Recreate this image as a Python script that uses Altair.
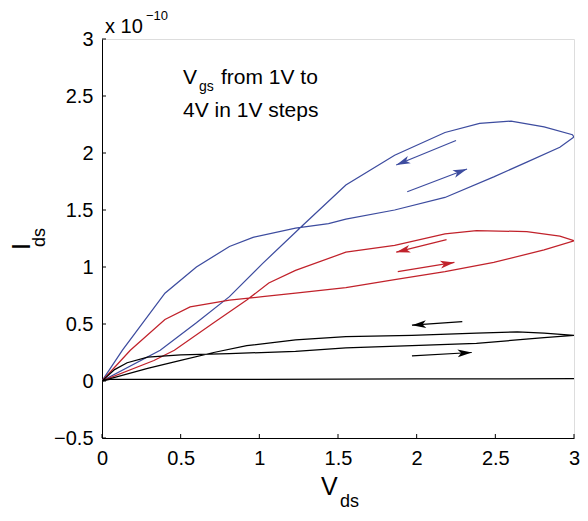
import math
import altair as alt
import pandas as pd

# ---------------- data ----------------
# Vgs = 4 V (blue): forward sweep then reverse sweep
blue_fwd_x = [0, 0.13, 0.40, 0.60, 0.81, 0.96, 1.23, 1.44, 1.55, 1.86, 2.18, 2.49, 2.70, 2.91, 3.0]
blue_fwd_y = [0, 0.27, 0.77, 1.00, 1.18, 1.26, 1.34, 1.38, 1.42, 1.50, 1.61, 1.79, 1.92, 2.05, 2.14]
blue_rev_x = [3.0, 2.99, 2.81, 2.60, 2.40, 2.18, 1.86, 1.55, 1.28, 1.02, 0.81, 0.60, 0.37, 0]
blue_rev_y = [2.14, 2.16, 2.23, 2.28, 2.26, 2.18, 1.98, 1.72, 1.37, 1.03, 0.74, 0.51, 0.27, 0]

# Vgs = 3 V (red)
red_fwd_x = [0, 0.18, 0.40, 0.56, 0.81, 1.02, 1.23, 1.55, 1.86, 2.18, 2.49, 2.81, 3.0]
red_fwd_y = [0, 0.27, 0.54, 0.65, 0.71, 0.74, 0.77, 0.82, 0.89, 0.96, 1.04, 1.15, 1.23]
red_rev_x = [3.0, 2.91, 2.70, 2.38, 2.18, 1.86, 1.55, 1.23, 1.06, 0.92, 0.71, 0.46, 0.33, 0]
red_rev_y = [1.23, 1.27, 1.31, 1.32, 1.29, 1.19, 1.13, 0.97, 0.86, 0.71, 0.51, 0.27, 0.18, 0]

# Vgs = 2 V (black)
blk_fwd_x = [0, 0.08, 0.16, 0.29, 0.50, 0.81, 1.23, 1.55, 1.97, 2.38, 2.81, 3.0]
blk_fwd_y = [0, 0.10, 0.16, 0.21, 0.23, 0.24, 0.26, 0.29, 0.31, 0.33, 0.38, 0.40]
blk_rev_x = [3.0, 2.81, 2.64, 2.38, 1.97, 1.55, 1.23, 0.92, 0.71, 0.50, 0.29, 0]
blk_rev_y = [0.40, 0.42, 0.43, 0.42, 0.40, 0.39, 0.36, 0.31, 0.25, 0.18, 0.11, 0]

# Vgs = 1 V (black, nearly flat)
one_x = [0, 0.05, 1.0, 2.0, 3.0]
one_y = [0, 0.015, 0.015, 0.018, 0.02]

# arrows: start x, start y, end x, end y, colour group
arrow_x0 = [2.25, 1.94, 2.19, 1.88, 2.29, 1.97]
arrow_y0 = [2.11, 1.66, 1.24, 0.96, 0.52, 0.22]
arrow_x1 = [1.87, 2.32, 1.87, 2.24, 1.97, 2.35]
arrow_y1 = [1.895, 1.86, 1.13, 1.04, 0.49, 0.25]
arrow_grp = ["4V", "4V", "3V", "3V", "2V", "2V"]

x_ticks = [0, 0.5, 1, 1.5, 2, 2.5, 3]
y_ticks = [-0.5, 0, 0.5, 1, 1.5, 2, 2.5, 3]

groups = ["4V", "3V", "2V", "1V"]
colors = ["#3d4c9f", "#c1222b", "#000000", "#000000"]

# ---------------- build tables ----------------
rows = []
def add(curve, grp, xs, ys):
    for i, (a, b) in enumerate(zip(xs, ys)):
        rows.append({"curve": curve, "grp": grp, "idx": i, "x": a, "y": b})

add("4V", "4V", blue_fwd_x + blue_rev_x, blue_fwd_y + blue_rev_y)
add("3V", "3V", red_fwd_x + red_rev_x, red_fwd_y + red_rev_y)
add("2V", "2V", blk_fwd_x + blk_rev_x, blk_fwd_y + blk_rev_y)
add("1V", "1V", one_x, one_y)
df = pd.DataFrame(rows)

W, H = 472, 399
xmin, xmax, ymin, ymax = 0, 3, -0.5, 3
sx = W / (xmax - xmin)
sy = H / (ymax - ymin)

arr = pd.DataFrame({"x0": arrow_x0, "y0": arrow_y0, "x1": arrow_x1, "y1": arrow_y1, "grp": arrow_grp})
arr["angle"] = [
    math.degrees(math.atan2(-(b1 - b0) * sy, (a1 - a0) * sx)) % 360
    for a0, b0, a1, b1 in zip(arrow_x0, arrow_y0, arrow_x1, arrow_y1)
]

FONT = "Liberation Sans"
xs = alt.Scale(domain=[xmin, xmax], nice=False, zero=False)
ys = alt.Scale(domain=[ymin, ymax], nice=False, zero=False)
cs = alt.Scale(domain=groups, range=colors)

lines = alt.Chart(df).mark_line(strokeWidth=1.25, clip=True).encode(
    x=alt.X("x:Q", scale=xs, axis=alt.Axis(values=x_ticks, format="~g", title=None, ticks=False,
                                             labelPadding=10, labelFlush=False, grid=False,
                                             domainColor="black", labelFontSize=20, labelFont=FONT,
                                             labelColor="black")),
    y=alt.Y("y:Q", scale=ys, axis=alt.Axis(values=y_ticks, format="~g", title=None, ticks=False,
                                             labelPadding=9, labelFlush=False, grid=False,
                                             domainColor="black", labelFontSize=20, labelFont=FONT,
                                             labelColor="black")),
    color=alt.Color("grp:N", scale=cs, legend=None),
    detail="curve:N",
    order="idx:Q",
)

shafts = alt.Chart(arr).mark_rule(strokeWidth=1.2).encode(
    x=alt.X("x0:Q", scale=xs), y=alt.Y("y0:Q", scale=ys),
    x2="x1:Q", y2="y1:Q",
    color=alt.Color("grp:N", scale=cs, legend=None),
)

heads = alt.Chart(arr).mark_point(
    filled=True, opacity=1, size=200, shape="M0,0L-2,-0.55L-1.5,0L-2,0.55Z"
).encode(
    x=alt.X("x1:Q", scale=xs), y=alt.Y("y1:Q", scale=ys),
    angle=alt.Angle("angle:Q", scale=None),
    color=alt.Color("grp:N", scale=cs, legend=None),
)

xt = pd.DataFrame({"v": x_ticks})
yt = pd.DataFrame({"v": y_ticks})
xtick = alt.Chart(xt).mark_rule(color="black", strokeWidth=1).encode(
    x=alt.X("v:Q", scale=xs), y=alt.value(H), y2=alt.value(H - 4))
ytick = alt.Chart(yt).mark_rule(color="black", strokeWidth=1).encode(
    y=alt.Y("v:Q", scale=ys), x=alt.value(0), x2=alt.value(4))

def txt(s, px, py, size, angle=0):
    kw = dict(text=s, fontSize=size, font=FONT, color="black", align="left", baseline="alphabetic")
    if angle:
        kw["angle"] = angle
    return alt.Chart(pd.DataFrame({"a": [0]})).mark_text(**kw).encode(x=alt.value(px), y=alt.value(py))

texts = [
    txt("x 10", 3, -6, 20),
    txt("\u221210", 44, -19, 13),
    txt("V", 81, 45, 21),
    txt("gs", 97, 52, 14),
    txt("from 1V to", 119, 45, 21),
    txt("4V in 1V steps", 81, 78, 21),
    txt("V", 219, 456, 25),
    txt("ds", 238, 468, 18),
    txt("I", -72, 211, 25, 270),
    txt("ds", -57, 208, 18, 270),
]

chart = alt.layer(lines, shafts, heads, xtick, ytick, *texts).properties(
    width=W, height=H,
    padding={"left": 94, "top": 31, "right": 6, "bottom": 74},
    autosize=alt.AutoSizeParams(type="none"),
).configure_view(stroke=None).configure(background="white")

chart.save("out.html", embed_options={"renderer": "svg", "actions": False})
